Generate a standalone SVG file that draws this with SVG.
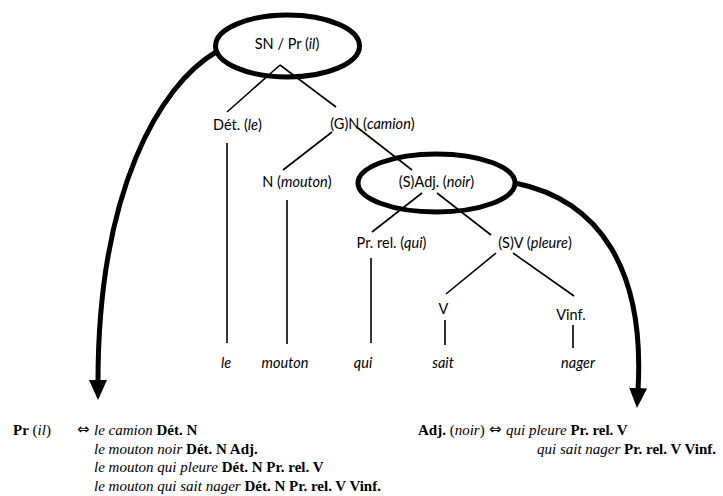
<svg xmlns="http://www.w3.org/2000/svg" width="723" height="496" viewBox="0 0 723 496">
<style>
.t{font-family:Lato,"Liberation Sans",sans-serif;font-size:14.5px;fill:#000;text-anchor:middle}
.e{fill:none;stroke:#000;stroke-width:5}
.l{stroke:#000;stroke-width:1.6;fill:none}
.a{fill:none;stroke:#000;stroke-width:5}
.s{font-family:"Liberation Serif","Times New Roman",serif;font-size:15px;fill:#000}
.sym{font-family:"DejaVu Sans",sans-serif;font-size:15px;fill:#000}
.b{font-weight:bold}
.i{font-style:italic}
</style>
<defs>
<marker id="ah" markerUnits="userSpaceOnUse" markerWidth="20" markerHeight="18" viewBox="0 0 20 18" refX="2" refY="9" orient="auto">
<path d="M0,0 L20,9 L0,18 z" fill="#000"/>
</marker>
</defs>
<g id="connectors">
<line class="l" x1="280" y1="65" x2="227" y2="112"/>
<line class="l" x1="280" y1="65" x2="336" y2="107"/>
<line class="l" x1="332" y1="132" x2="283" y2="170"/>
<line class="l" x1="358" y1="128" x2="412" y2="170"/>
<line class="l" x1="227" y1="143" x2="227" y2="343"/>
<line class="l" x1="287" y1="200" x2="287" y2="344"/>
<line class="l" x1="422" y1="193" x2="372" y2="232"/>
<line class="l" x1="437" y1="193" x2="491" y2="235"/>
<line class="l" x1="371" y1="258" x2="371" y2="343"/>
<line class="l" x1="496" y1="253" x2="446" y2="294"/>
<line class="l" x1="513" y1="253" x2="574" y2="296"/>
<line class="l" x1="445" y1="320" x2="445" y2="345"/>
<line class="l" x1="573" y1="325" x2="573" y2="348"/>
<path class="a" d="M216,52 C160,85 98,190 98,382" marker-end="url(#ah)"/>
<path class="a" d="M515,183 C600,200 645,270 638,390" marker-end="url(#ah)"/>
</g>
<g id="sn">
<ellipse class="e" cx="287.5" cy="46" rx="72" ry="31"/>
<text class="t" x="287" y="49">SN / Pr (<tspan class="i">il</tspan>)</text>
</g>
<g id="det"><text class="t" x="237.5" y="130">Dét. (<tspan class="i">le</tspan>)</text></g>
<g id="gn"><text class="t" x="372.5" y="129">(G)N (<tspan class="i">camion</tspan>)</text></g>
<g id="n"><text class="t" x="297" y="187">N (<tspan class="i">mouton</tspan>)</text></g>
<g id="adj">
<ellipse class="e" cx="436.5" cy="183" rx="78.5" ry="29"/>
<text class="t" x="436.5" y="187">(S)Adj. (<tspan class="i">noir</tspan>)</text>
</g>
<g id="prrel"><text class="t" x="391.5" y="248">Pr. rel. (<tspan class="i">qui</tspan>)</text></g>
<g id="sv"><text class="t" x="535" y="248">(S)V (<tspan class="i">pleure</tspan>)</text></g>
<g id="v"><text class="t" x="443.5" y="314">V</text></g>
<g id="vinf"><text class="t" x="571" y="320">Vinf.</text></g>
<g id="w-le"><text class="t i" x="226" y="368">le</text></g>
<g id="w-mouton"><text class="t i" x="285" y="368">mouton</text></g>
<g id="w-qui"><text class="t i" x="363" y="368">qui</text></g>
<g id="w-sait"><text class="t i" x="443" y="368">sait</text></g>
<g id="w-nager"><text class="t i" x="578" y="368">nager</text></g>
<g id="pr-block">
<text class="s" x="13" y="435"><tspan class="b">Pr</tspan> (<tspan class="i">il</tspan>)</text>
<text class="sym" x="77" y="434">⇔</text>
<text class="s" x="94" y="435"><tspan class="i">le camion</tspan> <tspan class="b">Dét. N</tspan></text>
<text class="s" x="94" y="453.5"><tspan class="i">le mouton noir</tspan> <tspan class="b">Dét. N Adj.</tspan></text>
<text class="s" x="94" y="472"><tspan class="i">le mouton qui pleure</tspan> <tspan class="b">Dét. N Pr. rel. V</tspan></text>
<text class="s" x="94" y="490.5"><tspan class="i">le mouton qui sait nager</tspan> <tspan class="b">Dét. N Pr. rel. V Vinf.</tspan></text>
</g>
<g id="adj-block">
<text class="s" x="418" y="435"><tspan class="b">Adj.</tspan> (<tspan class="i">noir</tspan>)</text>
<text class="sym" x="489" y="434">⇔</text>
<text class="s" x="506" y="435"><tspan class="i">qui pleure</tspan> <tspan class="b">Pr. rel. V</tspan></text>
<text class="s" x="537" y="453.5"><tspan class="i">qui sait nager</tspan> <tspan class="b">Pr. rel. V Vinf.</tspan></text>
</g>
</svg>
